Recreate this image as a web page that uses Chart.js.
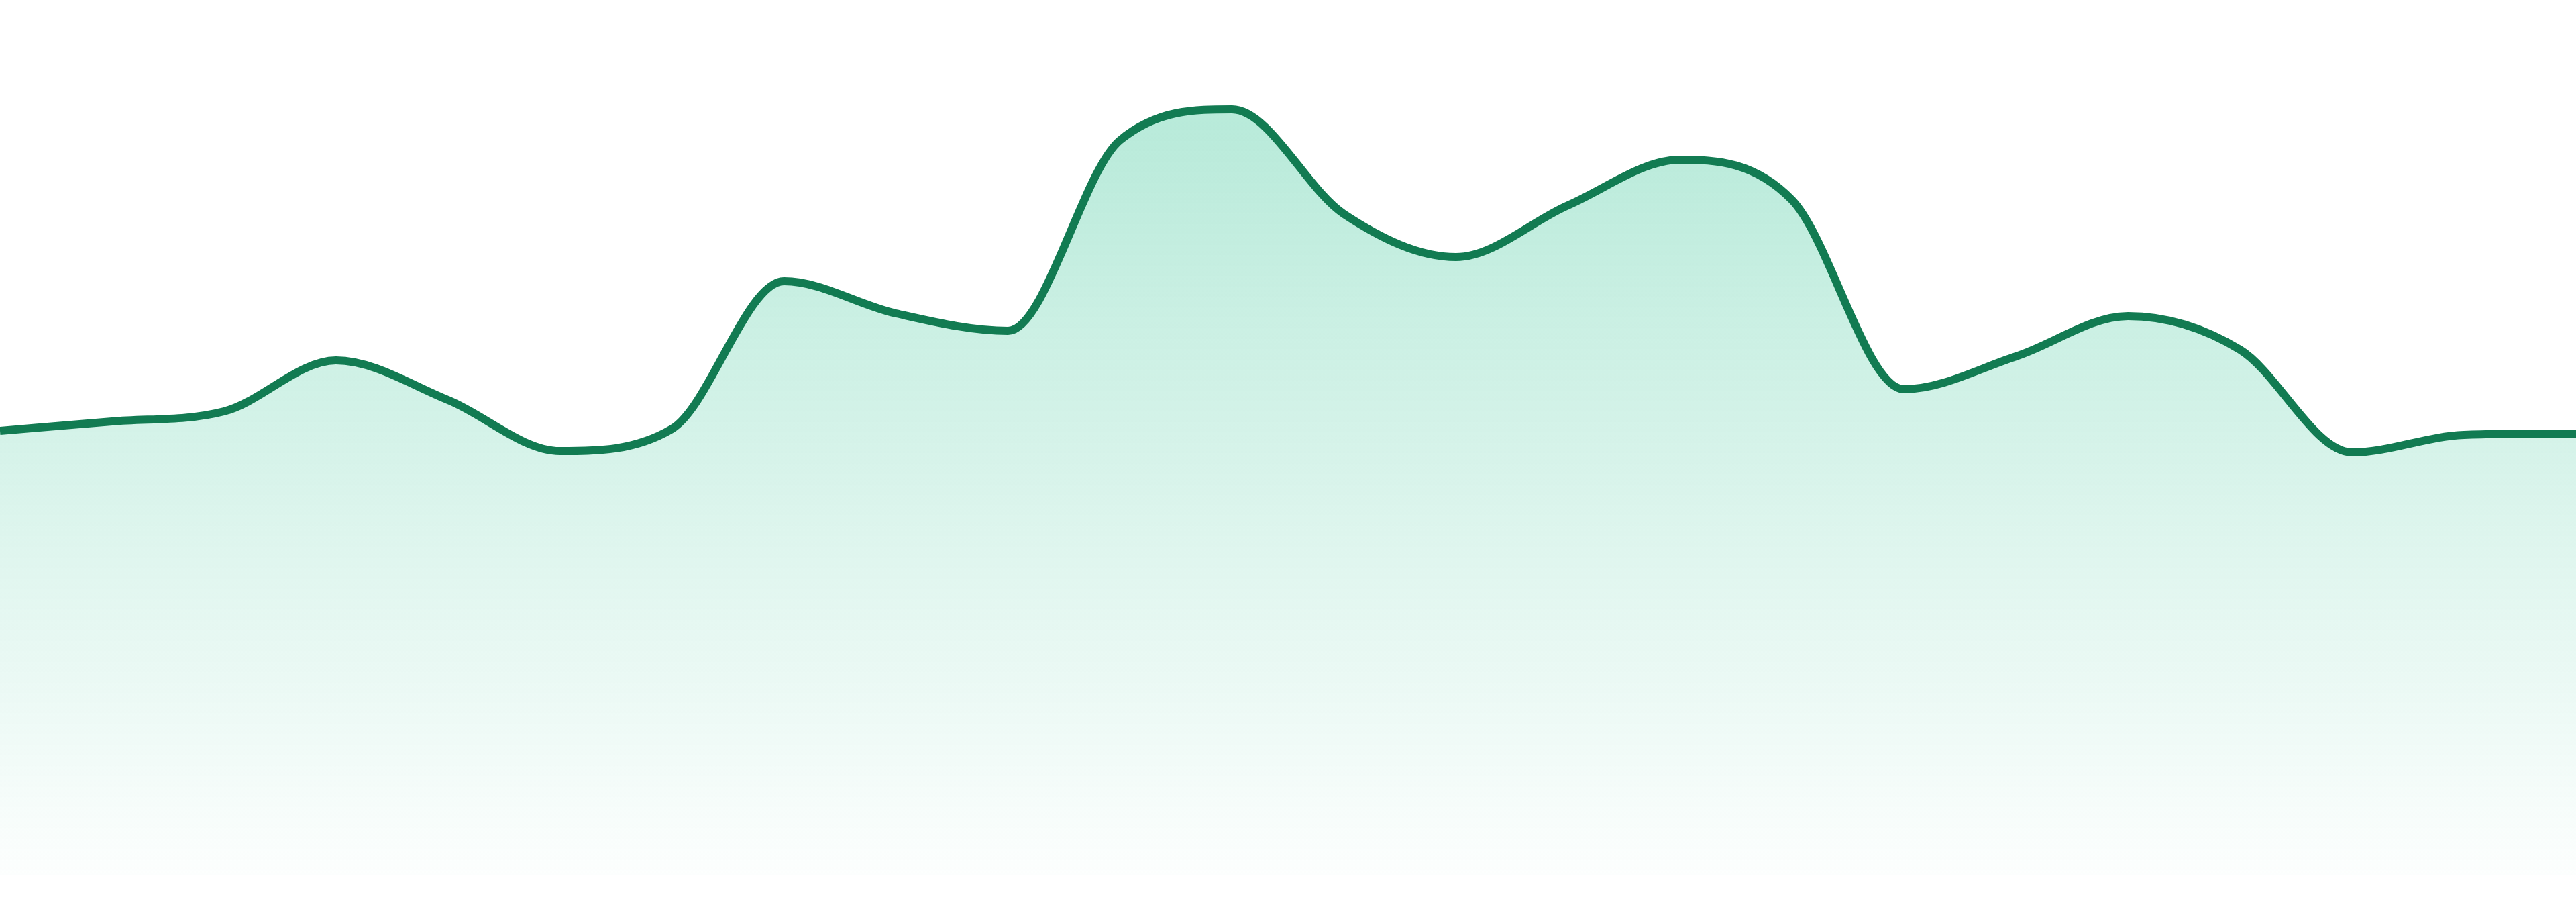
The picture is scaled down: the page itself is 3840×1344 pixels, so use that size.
<!DOCTYPE html>
<html>
<head>
<meta charset="utf-8">
<script src="https://cdn.jsdelivr.net/npm/chart.js@4.4.1/dist/chart.umd.min.js"></script>
<style>
  html, body { margin: 0; padding: 0; background: #ffffff; }
  #wrap { width: 3840px; height: 1344px; }
</style>
</head>
<body>
<div id="wrap"><canvas id="trend"></canvas></div>
<script>
// Series (one value per step, 24 steps)
const labels = ['1', '2', '3', '4', '5', '6', '7', '8', '9', '10', '11', '12',
                '13', '14', '15', '16', '17', '18', '19', '20', '21', '22', '23', '24'];
const values = [66.2, 67.6, 69.1, 76.7, 70.8, 63.2, 66.5, 88.5, 83.7, 81.1, 109.5, 114.1,
                98.5, 92.1, 99.8, 106.6, 100.6, 72.4, 77.3, 83.3, 78.3, 63.0, 65.6, 65.8];
const yMin = 0;
const yMax = 130.4;

// Fade the area fill from light green at the top to transparent at the bottom
function areaGradient(context) {
    const chart = context.chart;
    const area = chart.chartArea;
    if (!area) return 'rgba(16, 185, 129, 0.25)';
    const g = chart.ctx.createLinearGradient(0, area.top, 0, area.bottom);
    g.addColorStop(0, 'rgba(16, 185, 129, 0.34)');
    g.addColorStop(1, 'rgba(16, 185, 129, 0.01)');
    return g;
}

const ctx = document.getElementById('trend').getContext('2d');
new Chart(ctx, {
    type: 'line',
    data: {
        labels: labels,
        datasets: [{
            data: values,
            borderColor: '#127b52',
            borderWidth: 12,
            backgroundColor: areaGradient,
            fill: 'start',
            tension: 0.4,
            cubicInterpolationMode: 'monotone',
            pointRadius: 0,
            pointHoverRadius: 0
        }]
    },
    options: {
        responsive: true,
        maintainAspectRatio: false,
        animation: false,
        devicePixelRatio: 1,
        layout: { padding: { top: 0, right: 0, bottom: 40, left: 0 } },
        plugins: {
            legend: { display: false },
            tooltip: { enabled: false }
        },
        scales: {
            x: { display: false },
            y: { display: false, min: yMin, max: yMax }
        }
    }
});
</script>
</body>
</html>
